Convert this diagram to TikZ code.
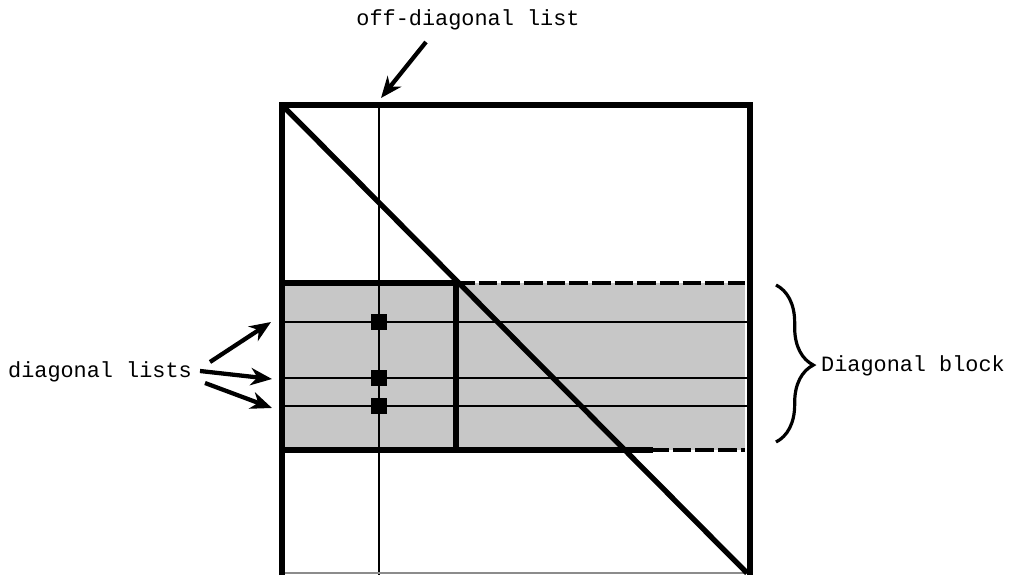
\documentclass[tikz,border=0pt]{standalone}
\usepackage{fontspec}
\setmainfont{Liberation Mono}
\usetikzlibrary{arrows.meta,decorations.pathreplacing}
\begin{document}
\begin{tikzpicture}[x=0.75pt,y=-0.75pt,
  thickline/.style={line width=4pt,line cap=rect},
  thinline/.style={line width=1.9pt},
  vline/.style={line width=1.1pt},
  dashline/.style={line width=2.4pt,dash pattern=on 14pt off 3pt},
  sq/.style={fill=black,draw=none,minimum size=12pt,inner sep=0pt},
  lbl/.style={font=\fontsize{16.4}{18}\selectfont,inner sep=1pt},
  arr/.style={line width=3.2pt,-{Stealth[length=16pt,width=13pt,inset=5pt]}},
  band/.style={fill=black!22}]
\useasboundingbox (0,0) rectangle (1010,575);
% shaded band
\fill[band] (282,283) rectangle (745,450);
% thin horizontal lists
\draw[thinline] (282,322) -- (750,322);
\draw[thinline] (282,378) -- (750,378);
\draw[thinline] (282,406) -- (750,406);
% off-diagonal vertical list
\draw[vline] (379,105) -- (379,575);
% dashed band edges
\draw[dashline] (456,283) -- (745,283);
\draw[dashline] (650,450) -- (745,450);
% diagonal sub-block
\draw[thickline] (282,450) -- (650,450);
\draw[thickline] (282,283) -- (456,283) -- (456,450);
% outer matrix
\draw[line width=1pt,black!45] (282,573) -- (750,573);
\draw[thickline,line cap=butt] (282,575) -- (282,105) -- (750,105) -- (750,575);
\draw[thickline,line cap=butt] (283,106) -- (747,573);
% entries
\node[sq] (e1) at (379,322) {};
\node[sq] (e2) at (379,378) {};
\node[sq] (e3) at (379,406) {};
% labels
\node[lbl] (off) at (468,20) {off-diagonal list};
\coordinate (offs) at (426,42);
\coordinate (offt) at (381,98);
\draw[arr] (offs) -- (offt);
\node[lbl] (dl) at (100,372) {diagonal lists};
\coordinate (s1) at (210,362);
\coordinate (s2) at (200,371);
\coordinate (s3) at (205,383);
\coordinate (t1) at (271,322);
\coordinate (t2) at (272,379);
\coordinate (t3) at (272,408);
\draw[arr] (s1) -- (t1);
\draw[arr] (s2) -- (t2);
\draw[arr] (s3) -- (t3);
% brace
\node[lbl] (db) at (913,366) {Diagonal block};
\coordinate (bt) at (776,285);
\coordinate (bb) at (776,442);
\draw[line width=2.4pt,decorate,decoration={brace,amplitude=28pt,aspect=0.51}] (bt) -- (bb);
\end{tikzpicture}
\end{document}
